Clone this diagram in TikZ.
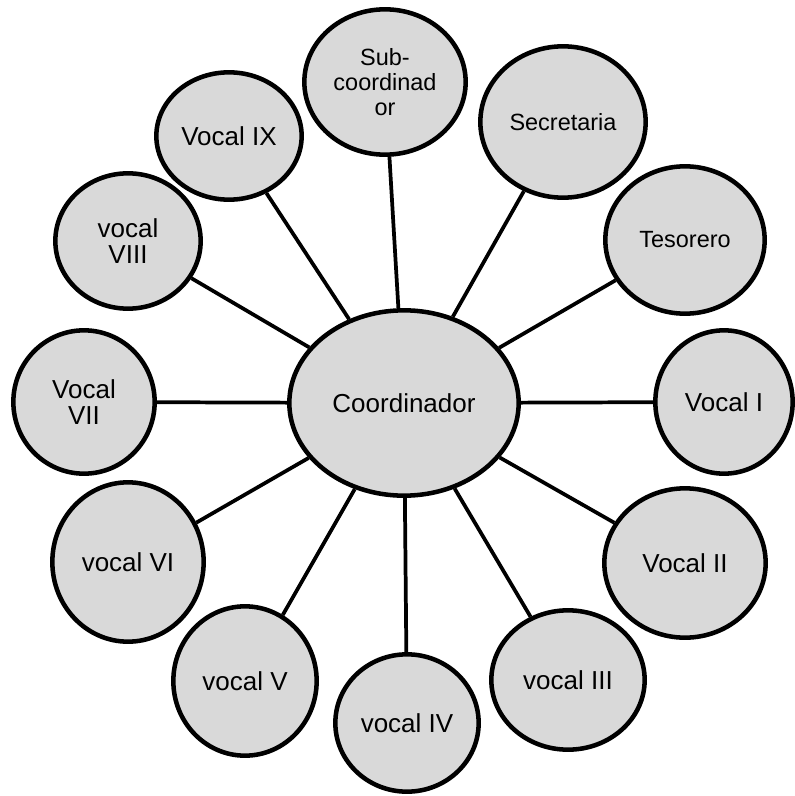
\documentclass[tikz,border=0pt]{standalone}
\usepackage{fontspec}
\setmainfont{Liberation Sans}
\usepackage{tikz}
\usetikzlibrary{shapes,calc,positioning}

\definecolor{nodegray}{HTML}{D9D9D9}

\begin{document}
\begin{tikzpicture}[x=0.75pt,y=-0.75pt,
                    member/.style={ellipse,draw,line width=3.4pt,fill=nodegray,inner sep=0pt,
                                   align=center,font=\fontsize{19.5pt}{20pt}\selectfont},
                    smalltext/.style={font=\fontsize{17.6pt}{19pt}\selectfont},
                    link/.style={line width=2.8pt}]

  \useasboundingbox (0,0) rectangle (795,796);

  % centre
  \node[member,minimum width=172pt,minimum height=139pt] (coord) at (404,403) {Coordinador};

  % top and right
  \node[member,smalltext,minimum width=121pt,minimum height=109pt] (sub) at (385,82) {Sub-\\coordinad\\or};
  \node[member,smalltext,minimum width=124pt,minimum height=113.5pt] (sec) at (563,122) {Secretaria};
  \node[member,smalltext,minimum width=119.5pt,minimum height=110.5pt] (tes) at (685,240) {Tesorero};
  \node[member,minimum width=103pt,minimum height=107.5pt] (v1) at (724,402) {Vocal I};
  \node[member,minimum width=121pt,minimum height=112pt] (v2) at (685,563) {Vocal II};
  \node[member,minimum width=115pt,minimum height=104.5pt] (v3) at (568,680) {vocal III};

  % bottom and left
  \node[member,minimum width=107.5pt,minimum height=103pt] (v4) at (407,723) {vocal IV};
  \node[member,minimum width=107.5pt,minimum height=112pt] (v5) at (245,681) {vocal V};
  \node[member,minimum width=113.5pt,minimum height=119.5pt] (v6) at (128,562) {vocal VI};
  \node[member,minimum width=106pt,minimum height=107.5pt] (v7) at (84,402) {Vocal\\VII};
  \node[member,minimum width=109pt,minimum height=101.5pt] (v8) at (128,241) {vocal\\VIII};
  \node[member,minimum width=109pt,minimum height=95.5pt] (v9) at (229,136) {Vocal IX};

  \begin{scope}
    \path[link] (coord) edge (sub)
                        edge (sec)
                        edge (tes)
                        edge (v1)
                        edge (v2)
                        edge (v3)
                        edge (v4)
                        edge (v5)
                        edge (v6)
                        edge (v7)
                        edge (v8)
                        edge (v9);
  \end{scope}
\end{tikzpicture}
\end{document}
